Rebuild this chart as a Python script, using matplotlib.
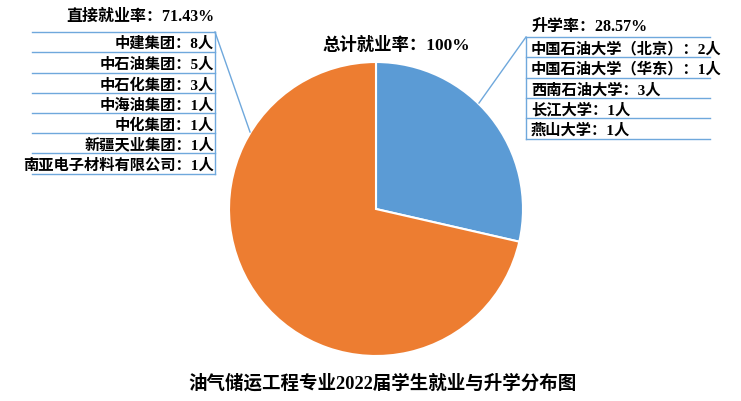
import matplotlib.pyplot as plt

plt.rcParams['font.family'] = ['Liberation Serif', 'Noto Sans CJK SC']

# data
work_names = ['中建集团', '中石油集团', '中石化集团', '中海油集团', '中化集团', '新疆天业集团', '南亚电子材料有限公司']
work_counts = [8, 5, 3, 1, 1, 1, 1]
study_names = ['中国石油大学（北京）', '中国石油大学（华东）', '西南石油大学', '长江大学', '燕山大学']
study_counts = [2, 1, 3, 1, 1]
title = '油气储运工程专业2022届学生就业与升学分布图'

n_work = sum(work_counts)
n_study = sum(study_counts)
total = n_work + n_study

W, H = 741, 402
fig = plt.figure(figsize=(W / 100, H / 100), dpi=100)
ax = fig.add_axes([0, 0, 1, 1])


def Y(py):
    return H - py


blue = '#5B9BD5'
orange = '#ED7D31'
line_c = '#6FA8DC'

ax.pie([n_study, n_work], colors=[blue, orange], startangle=90, counterclock=False,
       center=(376, Y(210)), radius=147, frame=True,
       wedgeprops=dict(edgecolor='white', linewidth=1.5))
ax.set_xlim(0, W)
ax.set_ylim(0, H)
ax.axis('off')

fs = 11

# left table (employment)
ax.text(214, Y(17), '直接就业率：%.2f%%' % (n_work / total * 100), ha='right', va='center',
        fontsize=11.5, fontweight='bold')
row_y = [33, 53, 74, 94, 114, 134, 154, 175]
for y in row_y:
    ax.plot([32, 215], [Y(y), Y(y)], color=line_c, lw=1)
ax.plot([215, 215], [Y(row_y[0]), Y(row_y[-1])], color=line_c, lw=1)
ax.plot([215, 250], [Y(33), Y(133)], color=line_c, lw=1)
for i, (n, c) in enumerate(zip(work_names, work_counts)):
    yc = (row_y[i] + row_y[i + 1]) / 2 + 1
    ax.text(214, Y(yc), '%s：%d人' % (n, c), ha='right', va='center', fontsize=fs, fontweight='bold')

# right table (further study)
ax.text(531, Y(27), '升学率：%.2f%%' % (n_study / total * 100), ha='left', va='center',
        fontsize=11.5, fontweight='bold')
rrow_y = [38, 58, 79, 99, 119, 140]
for y in rrow_y:
    ax.plot([526, 710], [Y(y), Y(y)], color=line_c, lw=1)
ax.plot([526, 526], [Y(rrow_y[0]), Y(rrow_y[-1])], color=line_c, lw=1)
ax.plot([526, 479], [Y(38), Y(104)], color=line_c, lw=1)
for i, (n, c) in enumerate(zip(study_names, study_counts)):
    yc = (rrow_y[i] + rrow_y[i + 1]) / 2 + 1
    ax.text(531, Y(yc), '%s：%d人' % (n, c), ha='left', va='center', fontsize=fs, fontweight='bold')

ax.text(396, Y(45), '总计就业率：%d%%' % round(total / total * 100), ha='center', va='center',
        fontsize=12.5, fontweight='bold')

ax.text(383, Y(383), title, ha='center', va='center', fontsize=13.3, fontweight='bold')

fig.savefig('out.png', dpi=100)
